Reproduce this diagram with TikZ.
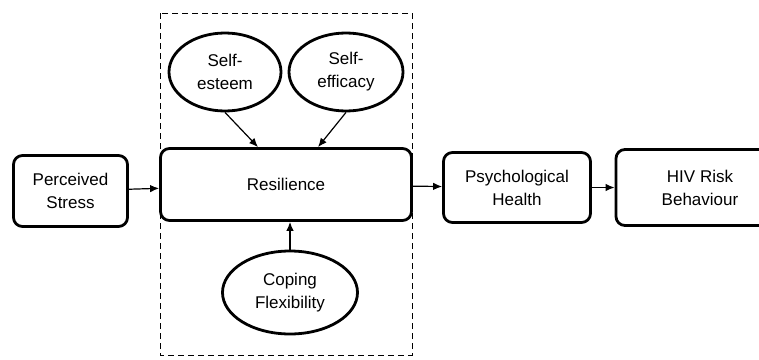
\documentclass[tikz,border=0pt]{standalone}
\usepackage{fontspec}
\setmainfont{Liberation Sans}
\usetikzlibrary{arrows.meta,shapes.geometric}
\begin{document}
\begin{tikzpicture}[x=1pt,y=-1pt,
  box/.style={draw,line width=2.8pt,rounded corners=9pt,align=center,inner sep=0pt,font=\fontsize{17}{23}\selectfont},
  oval/.style={draw,ellipse,line width=2.8pt,align=center,inner sep=0pt,font=\fontsize{17}{23}\selectfont},
  arr/.style={line width=1.2pt,-{Latex[length=9pt,width=7.5pt]}}]
\useasboundingbox (0,0) rectangle (759,359);
\clip (0,0) rectangle (759,359);
\node[box,minimum width=114pt,minimum height=71pt] (ps) at (70.5,191) {Perceived\\Stress};
\node[box,minimum width=251pt,minimum height=72pt] (res) at (286,184.5) {Resilience};
\node[box,minimum width=147pt,minimum height=70pt] (ph) at (517,187.5) {Psychological\\Health};
\node[box,minimum width=168pt,minimum height=76pt] (hiv) at (700,187.5) {HIV Risk\\Behaviour};
\node[oval,minimum width=112pt,minimum height=78pt] (se) at (225,72) {Self-\\esteem};
\node[oval,minimum width=114pt,minimum height=78pt] (sef) at (346,72) {Self-\\efficacy};
\node[oval,minimum width=135pt,minimum height=83pt] (cf) at (290,292.5) {Coping\\Flexibility};
\coordinate (dtl) at (160,13);
\coordinate (dbr) at (412,355);
\draw[line width=0.9pt,dash pattern=on 6pt off 4pt] (dtl) rectangle (dbr);
\draw[arr] (ps) -- (res);
\draw[arr] (res) -- (ph);
\draw[arr] (ph) -- (hiv);
\draw[arr] (se.south) -- (res.north -| 258,0);
\draw[arr] (sef.south) -- (res.north -| 318,0);
\draw[arr] (cf.north) -- (res.south -| cf.north);
\end{tikzpicture}
\end{document}
